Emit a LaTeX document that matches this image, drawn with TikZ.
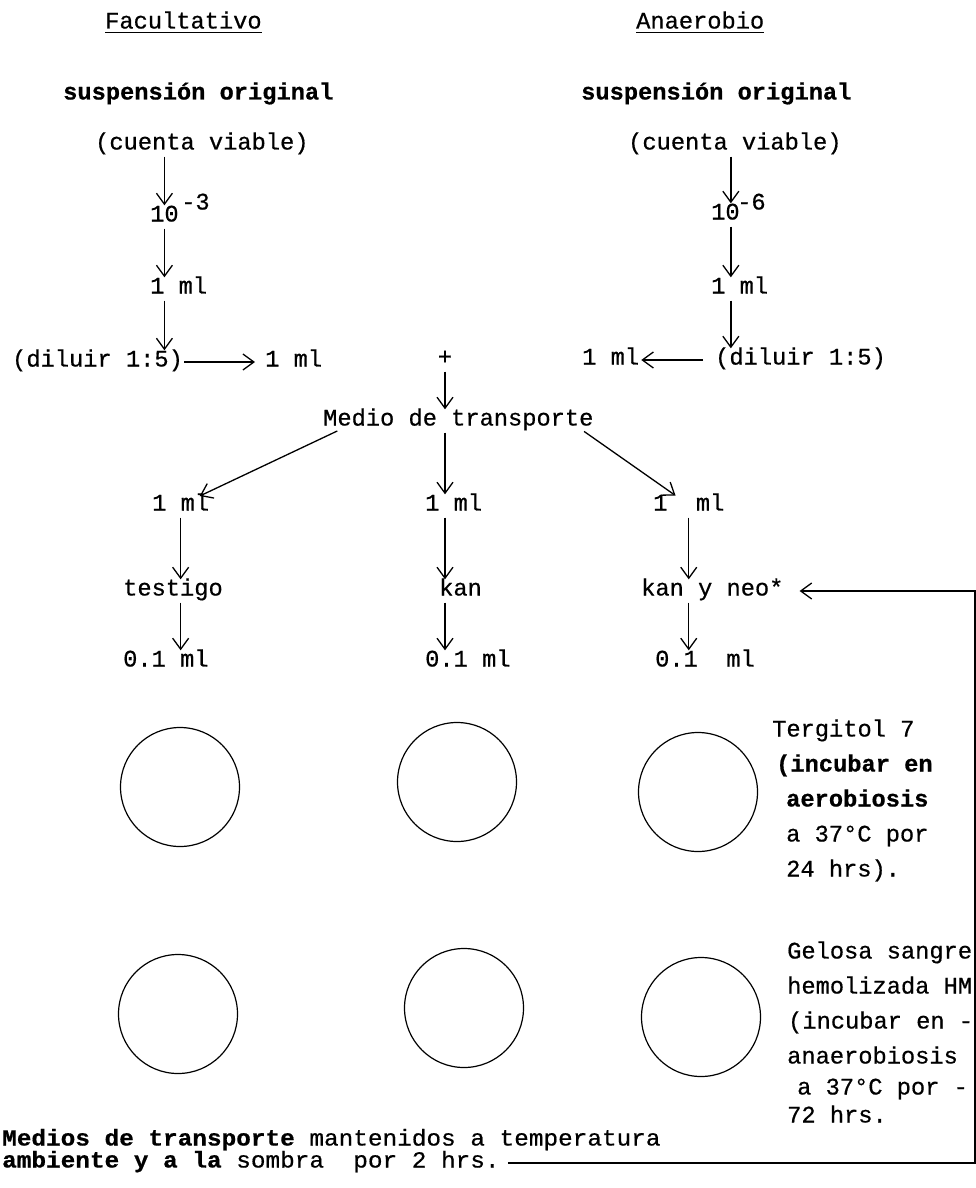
\documentclass[tikz,border=0pt]{standalone}
\usepackage{fontspec}
\newfontfamily\twfont{Liberation Mono}[FakeBold=0.6]
\newfontfamily\footfont{Liberation Mono}[FakeStretch=1.06, FakeBold=0.6]
\usetikzlibrary{arrows.meta,positioning}

\begin{document}
\begin{tikzpicture}[
  x=1pt, y=-1pt,
  every node/.style={inner sep=0pt, anchor=west, text height=13pt, text depth=4pt, font=\twfont\fontsize{23.7}{28}\selectfont},
  arr/.style={-{Straight Barb[length=11pt, width=16pt]}, line width=1.3pt, shorten <=3pt, shorten >=3pt},
  dish/.style={draw, circle, minimum size=119pt, line width=1.2pt, anchor=center},
  foot/.style={font=\footfont\fontsize{23}{26}\selectfont},
]
  \useasboundingbox (0,0) rectangle (976,1188);

  % Headers
  \node (hF) at (105,24) {Facultativo};
  \node (hA) at (636,24) {Anaerobio};
  \draw[line width=1.4pt] (hF.south west) -- (hF.south east);
  \draw[line width=1.4pt] (hA.south west) -- (hA.south east);

  % Facultativo column
  \node (sF) at (63,95) {\bfseries suspensión original};
  \node (cF) at (95,145) {(cuenta viable)};
  \node (eF) at (150,217) {10};
  \node (xF) at (181,205) {-3};
  \node (mF) at (150,289) {1 ml};
  \node (dF) at (12,362) {(diluir 1:5)};
  \node (oF) at (265,362) {1 ml};
  \draw[arr] (cF.south -| eF) -- (eF.north);
  \draw[arr] (eF.south) -- (mF.north -| eF);
  \draw[arr] (mF.south -| eF) -- (dF.north -| eF);
  \draw[arr, shorten <=1pt, shorten >=10pt] (dF.east) -- (oF.west);

  % Anaerobio column
  \node (sA) at (581,95) {\bfseries suspensión original};
  \node (cA) at (628,145) {(cuenta viable)};
  \node (eA) at (711,215) {10};
  \node (xA) at (737,205) {-6};
  \node (mA) at (711,289) {1 ml};
  \node (dA) at (715,360) {(diluir 1:5)};
  \node (oA) at (582,360) {1 ml};
  \coordinate (colA) at ([xshift=-9pt]eA.east);
  \draw[arr] (cA.south -| colA) -- (eA.north -| colA);
  \draw[arr] (eA.south -| colA) -- (mA.north -| colA);
  \draw[arr] (mA.south -| colA) -- (dA.north -| colA);
  \draw[arr, shorten <=12pt, shorten >=2pt] (dA.west) -- (oA.east);

  % Medio de transporte
  \node[anchor=center] (plus) at (445,360) {+};
  \node (med) at (323,421) {Medio de transporte};
  \draw[arr] (plus.south) -- (med.north -| plus);

  \node (mlL) at (152,506) {1 ml};
  \node (mlM) at (425,506) {1 ml};
  \node (mlR) at (653,506) {1\ \ ml};
  \draw[arr] ([xshift=17pt]med.south west) -- ([xshift=45pt]mlL.north west);
  \draw[arr] (med.south -| plus) -- (mlM.north -| plus);
  \draw[arr] ([xshift=-12pt]med.south east) -- ([xshift=25pt]mlR.north west);

  \node (tst) at (123,591) {testigo};
  \node (kan) at (439,591) {kan};
  \node (kyn) at (641,591) {kan y neo*};
  \draw[arr] (mlL.south) -- (mlL.south |- tst.north);
  \draw[arr] (mlM.south -| plus) -- (kan.north -| plus);
  \draw[arr] (mlR.south) -- (mlR.south |- kyn.north);

  \node (pL) at (123,662) {0.1 ml};
  \node (pM) at (425,662) {0.1 ml};
  \node (pR) at (655,662) {0.1\ \ ml};
  \draw[arr] (mlL.south |- tst.south) -- (mlL.south |- pL.north);
  \draw[arr] (kan.south -| plus) -- (pM.north -| plus);
  \draw[arr] (kyn.south -| mlR) -- (pR.north -| mlR);

  % Plates
  \foreach \n/\x/\y in {d1/180/787, d2/457/782, d3/698/792, d4/178/1014, d5/464/1008, d6/701/1017}
    \node[dish] (\n) at (\x,\y) {};

  % Media notes
  \node (tg1) at (772,732) {Tergitol 7};
  \node (tg2) at (776,767) {\bfseries (incubar en};
  \node (tg3) at (786,802) {\bfseries aerobiosis};
  \node (tg4) at (786,837) {a 37°C por};
  \node (tg5) at (786,872) {24 hrs).};
  \node (gs1) at (787,954) {Gelosa sangre};
  \node (gs2) at (787,989) {hemolizada HM};
  \node (gs3) at (788,1024) {(incubar en -};
  \node (gs4) at (787,1059) {anaerobiosis};
  \node (gs5) at (797,1090) {a 37°C por -};
  \node (gs6) at (787,1118) {72 hrs.};

  % Footnote and return line
  \node[foot] (ft1) at (2,1141) {{\bfseries Medios de transporte} mantenidos a temperatura};
  \node[foot] (ft2) at (2,1163) {{\bfseries ambiente y a la} sombra\ \ por 2 hrs.};
  \coordinate (rim) at (975,1165);
  \draw[arr, shorten <=8pt, shorten >=16pt] (ft2.east) -- (ft2.east -| rim) -- (rim |- kyn) -- (kyn.east);
\end{tikzpicture}
\end{document}
